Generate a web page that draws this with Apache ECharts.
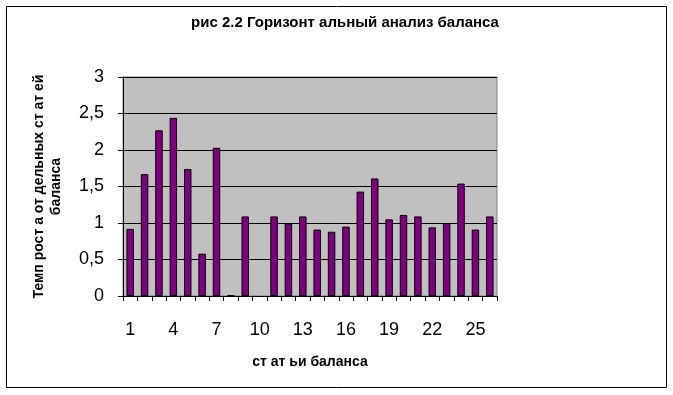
<!DOCTYPE html>
<html><head><meta charset="utf-8">
<script src="https://cdn.jsdelivr.net/npm/echarts@6/dist/echarts.min.js"></script>
<style>html,body{margin:0;padding:0;background:#fff}#c{width:673px;height:395px}</style>
</head><body><div id="c"></div>
<script>
const categories = ['1','2','3','4','5','6','7','8','9','10','11','12','13','14','15','16','17','18','19','20','21','22','23','24','25','26'];
const values = [0.92,1.67,2.27,2.44,1.74,0.58,2.03,0.01,1.09,null,1.09,0.99,1.09,0.91,0.88,0.95,1.43,1.61,1.05,1.11,1.09,0.94,1.0,1.54,0.91,1.09];
const yTicks = [0,0.5,1,1.5,2,2.5,3];
const titleText = 'рис 2.2 Горизонт альный анализ баланса';
const yName = 'Темп рост а от дельных ст ат ей\nбаланса';
const xName = 'ст ат ьи баланса';

const chart = echarts.init(document.getElementById('c'), null, {renderer:'canvas'});
chart.setOption({
  animation:false,
  backgroundColor:'#ffffff',
  title:{text:titleText,left:340,textAlign:'center',top:10,
    textStyle:{fontFamily:'Liberation Sans, Arial',fontWeight:'bold',fontSize:15,color:'#000'}},
  graphic:[{type:'rect',shape:{x:6.5,y:6.5,width:660,height:381},style:{fill:'none',stroke:'#000',lineWidth:1},z:-1}],
  grid:{left:123,right:176,top:77,bottom:99,show:true,backgroundColor:'#c0c0c0',borderColor:'#808080',borderWidth:1},
  xAxis:{type:'category',data:categories,
    axisLine:{lineStyle:{color:'#000',width:1}},
    axisTick:{show:true,interval:0,length:5,lineStyle:{color:'#000'}},
    axisLabel:{interval:2,color:'#000',fontFamily:'Liberation Sans, Arial',fontSize:18,margin:25},
    name:xName,nameLocation:'middle',nameGap:59,
    nameTextStyle:{fontFamily:'Liberation Sans, Arial',fontWeight:'bold',fontSize:14,color:'#000'}},
  yAxis:{type:'value',min:0,max:3,interval:0.5,
    axisLine:{show:true,lineStyle:{color:'#000',width:1}},
    axisTick:{show:true,length:5,lineStyle:{color:'#000'}},
    splitLine:{lineStyle:{color:'#000',width:1}},
    axisLabel:{color:'#000',fontFamily:'Liberation Sans, Arial',fontSize:18,margin:19,
      formatter:v=>String(v).replace('.',',')},
    name:yName,nameLocation:'middle',nameGap:58,nameRotate:90,
    nameTextStyle:{fontFamily:'Liberation Sans, Arial',fontWeight:'bold',fontSize:14,color:'#000',lineHeight:17}},
  series:[{type:'bar',data:values,barCategoryGap:'48%',
    itemStyle:{color:'#800080',borderColor:'#000',borderWidth:1}}]
});
</script></body></html>
